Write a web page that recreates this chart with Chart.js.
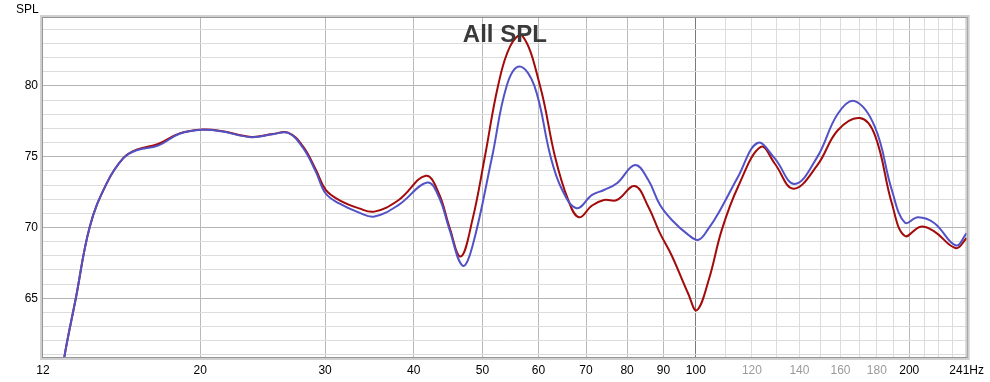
<!DOCTYPE html>
<html>
<head>
<meta charset="utf-8">
<script src="https://cdn.jsdelivr.net/npm/chart.js@4/dist/chart.umd.min.js"></script>
<style>
html,body{margin:0;padding:0;background:#fff;}
canvas{display:block;}
</style>
</head>
<body>
<canvas id="c" width="990" height="382"></canvas>
<script>
// ---- data ----
const chartTitle = "All SPL";
const yAxisLabel = "SPL";

const redFreq = [12, 12.86, 13.35, 13.97, 14.75, 15.57, 16.26, 17.44, 18.7, 20.17, 21.4, 23.6, 25.3, 26.6, 27.9, 29.1, 30.06, 31.4, 33.5, 35.2, 38.1, 41.6, 43.4, 44.9, 46.6, 48.4, 50.4, 52.6, 54.7, 56.9, 60.3, 63.3, 66.0, 68.4, 71.4, 74.2, 77.4, 82.0, 85.7, 89.0, 92.5, 97.6, 100.3, 104.3, 108.8, 114.7, 123.5, 129.2, 137.3, 148.4, 158.6, 170.4, 178.9, 189, 197, 207.6, 217.1, 232.7, 241];
const redSPL  = [51.5, 60.84, 65.0, 70.06, 73.1, 74.9, 75.5, 75.9, 76.65, 76.92, 76.82, 76.4, 76.6, 76.7, 75.75, 74.1, 72.65, 71.94, 71.35, 71.12, 71.94, 73.65, 72.41, 70.06, 67.95, 70.53, 75.0, 80.0, 82.8, 83.55, 80.0, 75.0, 72.0, 70.72, 71.55, 71.94, 71.94, 72.93, 71.47, 69.6, 68.0, 65.3, 64.15, 66.31, 69.83, 72.88, 75.69, 74.52, 72.74, 74.41, 76.87, 77.73, 76.52, 71.71, 69.41, 70.06, 69.71, 68.54, 69.25];

const blueFreq = [12, 12.86, 13.35, 13.97, 14.75, 15.57, 16.26, 17.44, 18.7, 20.17, 21.4, 23.6, 25.3, 26.6, 27.9, 29.1, 30.06, 31.4, 33.5, 35.2, 38.1, 41.8, 43.4, 44.9, 46.9, 48.4, 51.6, 54.1, 56.4, 59.2, 62.4, 64.8, 67.9, 71.4, 74.2, 77.4, 82.1, 85.7, 89.0, 92.5, 97.6, 100.9, 104.3, 107.6, 114.7, 122.2, 129.2, 137.8, 148.4, 158.6, 167.6, 178.9, 189, 197.2, 205.8, 217.1, 232.7, 241];
const blueSPL  = [51.5, 60.84, 65.0, 70.06, 73.1, 74.88, 75.46, 75.78, 76.62, 76.9, 76.8, 76.38, 76.58, 76.68, 75.65, 73.95, 72.4, 71.7, 71.05, 70.77, 71.6, 73.18, 72.17, 69.9, 67.3, 68.65, 75.0, 80.0, 81.37, 80.0, 75.0, 72.65, 71.36, 72.3, 72.65, 73.12, 74.41, 73.35, 71.6, 70.53, 69.48, 69.13, 69.95, 71.0, 73.58, 75.97, 74.88, 73.07, 74.99, 78.04, 78.93, 77.1, 72.65, 70.34, 70.72, 70.3, 68.73, 69.6];

const xGridValues = [12, 20, 30, 40, 50, 60, 70, 80, 90, 100, 110, 120, 130, 140, 150, 160, 170, 180, 190, 200, 210, 220, 230, 240, 241];
const xLabelValues = [12, 20, 30, 40, 50, 60, 70, 80, 90, 100, 120, 140, 160, 180, 200, 241];
const xGreyLabels = [120, 140, 160, 180];
const yLabelValues = [65, 70, 75, 80];
const xMin = 12, xMax = 241, yMin = 60.85, yMax = 84.8;

function pts(fs, vs){ return fs.map((f,i)=>({x:f, y:vs[i]})); }

const framePlugin = {
  id: 'frame',
  afterDraw(chart){
    const {ctx, chartArea:a} = chart;
    ctx.save();
    ctx.strokeStyle = 'rgba(150,150,150,0.45)';
    ctx.lineWidth = 3;
    ctx.strokeRect(a.left-1.5, a.top-1.5, a.right-a.left+3, a.bottom-a.top+3);
    ctx.strokeStyle = '#959595';
    ctx.lineWidth = 1;
    ctx.strokeRect(a.left-0.5, a.top-0.5, a.right-a.left+1, a.bottom-a.top+1);
    ctx.fillStyle = '#3a3a3a';
    ctx.font = 'bold 24px "Liberation Sans", Arial, sans-serif';
    ctx.textAlign = 'center';
    ctx.textBaseline = 'alphabetic';
    ctx.fillText(chartTitle, (a.left+a.right)/2, 42);
    ctx.fillStyle = '#000';
    ctx.font = '12px "Liberation Sans", Arial, sans-serif';
    ctx.textAlign = 'left';
    ctx.fillText(yAxisLabel, 16, 13);
    ctx.restore();
  }
};

new Chart(document.getElementById('c'), {
  type: 'line',
  data: {
    datasets: [
      {label:'blue', data: pts(blueFreq, blueSPL), borderColor:'#5252c6', borderWidth:2, pointRadius:0, tension:0.4, fill:false},
      {label:'red', data: pts(redFreq, redSPL), borderColor:'#a30a0a', borderWidth:2, pointRadius:0, tension:0.4, fill:false}
    ]
  },
  options: {
    responsive:false, animation:false, devicePixelRatio:1,
    layout:{padding:{top:18, right:22, left:0, bottom:0}},
    plugins:{legend:{display:false}, tooltip:{enabled:false}, title:{display:false}},
    scales:{
      x:{
        type:'logarithmic', min:xMin, max:xMax,
        afterBuildTicks(s){ s.ticks = xGridValues.map(v=>({value:v})); },
        afterFit(s){ s.height = 25; },
        border:{display:false},
        grid:{
          drawTicks:false,
          color(ctx){ const v = ctx.tick && ctx.tick.value;
            if (v===12 || v===241) return 'rgba(0,0,0,0)';
            if (v===100) return '#7a7a7a';
            if (v<100 || v===200) return '#bababa';
            return '#dcdcdc'; }
        },
        ticks:{
          autoSkip:false, maxRotation:0, minRotation:0, padding:6,
          font:{family:'"Liberation Sans", Arial, sans-serif', size:12},
          color(ctx){ const v = ctx.tick && ctx.tick.value; return xGreyLabels.includes(v) ? '#9a9a9a' : '#000'; },
          callback(v){ if (!xLabelValues.includes(v)) return ''; return v===241 ? '241Hz' : String(v); }
        }
      },
      y:{
        type:'linear', min:yMin, max:yMax,
        afterBuildTicks(s){ const t=[]; for(let v=61; v<=84; v++) t.push({value:v}); s.ticks=t; },
        afterFit(s){ s.width = 43; },
        border:{display:false},
        grid:{ drawTicks:false, color(ctx){ const v = ctx.tick && ctx.tick.value; return (v%5===0) ? '#b4b4b4' : '#dcdcdc'; } },
        ticks:{
          autoSkip:false, padding:5,
          font:{family:'"Liberation Sans", Arial, sans-serif', size:12},
          color:'#000',
          callback(v){ return yLabelValues.includes(v) ? String(v) : ''; }
        }
      }
    }
  },
  plugins:[framePlugin]
});
</script>
</body>
</html>
